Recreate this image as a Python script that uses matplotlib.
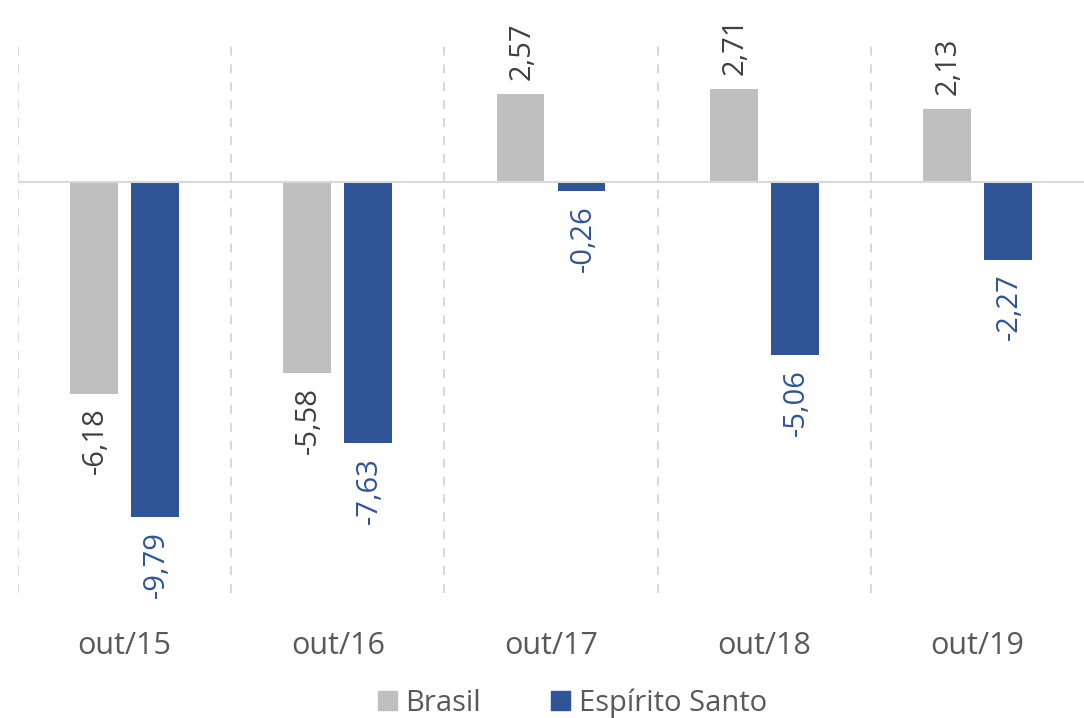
import matplotlib
matplotlib.use("Agg")
import matplotlib.pyplot as plt
import numpy as np
from matplotlib.patches import Patch

categories = ["out/15", "out/16", "out/17", "out/18", "out/19"]
brasil = [-6.18, -5.58, 2.57, 2.71, 2.13]
espirito_santo = [-9.79, -7.63, -0.26, -5.06, -2.27]
series_names = ["Brasil", "Espírito Santo"]

plt.rcParams['font.family'] = ['Open Sans', 'DejaVu Sans']

GRAY = "#BFBFBF"
BLUE = "#2F5597"
TXT = "#595959"

fig = plt.figure(figsize=(10.84, 7.18), dpi=100)
ax = fig.add_axes([18/1084, 1 - 593/718, 1 - 18/1084, (593 - 45)/718])

x = np.arange(len(categories))
w = 0.225
off = 0.143
b1 = ax.bar(x - off, brasil, w, color=GRAY, zorder=2)
b2 = ax.bar(x + off, espirito_santo, w, color=BLUE, zorder=2)

def fmt(v):
    return f"{v:.2f}".replace(".", ",")

for bars, vals, col in [(b1, brasil, "#404040"), (b2, espirito_santo, BLUE)]:
    for r, v in zip(bars, vals):
        cx = r.get_x() + r.get_width() / 2
        if v >= 0:
            ax.annotate(fmt(v), (cx, v), xytext=(1, 10), textcoords="offset points",
                        rotation=90, ha="center", va="bottom", fontsize=21, color=col)
        else:
            ax.annotate(fmt(v), (cx, v), xytext=(1, -10), textcoords="offset points",
                        rotation=90, ha="center", va="top", fontsize=21, color=col)

ax.set_xlim(-0.5, len(categories) - 0.5)
ax.set_ylim(-12, 4)
for b in np.arange(-0.5, len(categories) - 0.5, 1.0):
    ax.axvline(b, color="#D9D9D9", lw=1.5, ls=(0, (4.3, 4.3)), zorder=1)
ax.axhline(0, color="#D9D9D9", lw=1.5, zorder=3)

for s in ax.spines.values():
    s.set_visible(False)
ax.set_yticks([])
ax.set_xticks(x)
ax.set_xticklabels(categories, fontsize=22, color=TXT)
ax.tick_params(axis="x", length=0, pad=27)

handles = [Patch(color=GRAY, label=series_names[0]), Patch(color=BLUE, label=series_names[1])]
fig.legend(handles=handles, loc="center", bbox_to_anchor=(0.528, 1 - 703/718), ncol=2,
           frameon=False, fontsize=21, labelcolor=TXT, handlelength=0.65, handleheight=0.65,
           handletextpad=0.3, columnspacing=2.4)

fig.savefig("out.png", dpi=100)
